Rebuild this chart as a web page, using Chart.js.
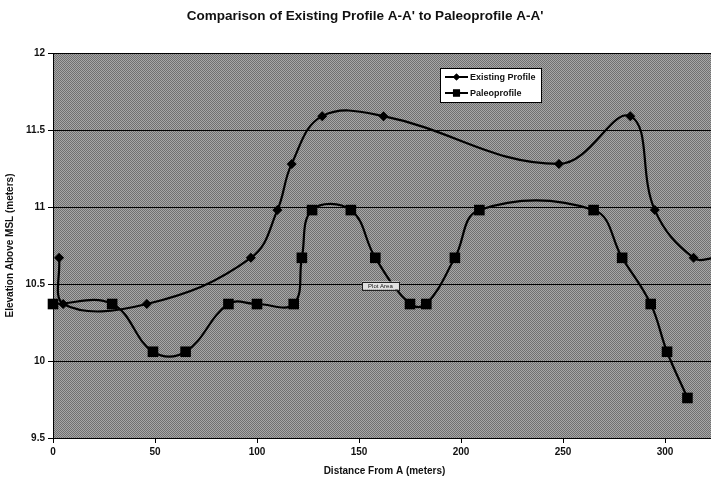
<!DOCTYPE html>
<html>
<head>
<meta charset="utf-8">
<script src="https://cdn.jsdelivr.net/npm/chart.js@4/dist/chart.umd.min.js"></script>
<style>
  html, body { margin: 0; padding: 0; background: #fff; overflow: hidden; width: 711px; height: 481px; }
  #wrap { width: 730px; height: 481px; }
  canvas { display: block; }
</style>
</head>
<body>
<div id="wrap"><canvas id="profile" width="730" height="481"></canvas></div>
<script>
// Text
const chartTitle = "Comparison of Existing Profile A-A' to Paleoprofile A-A'";
const xAxisTitle = 'Distance From A (meters)';
const yAxisTitle = 'Elevation Above MSL (meters)';
const seriesNames = ['Existing Profile', 'Paleoprofile'];
const plotAreaTag = 'Plot Area';

// Surveyed points (distance in m, elevation in m above MSL)
const existingDistance  = [3, 5, 46, 97, 110, 117, 132, 162, 248, 283, 295, 314, 325];
const existingElevation = [10.67, 10.37, 10.37, 10.67, 10.98, 11.28, 11.59, 11.59, 11.28, 11.59, 10.98, 10.67, 10.67];

const paleoDistance  = [0, 29, 49, 65, 86, 100, 118, 122, 127, 146, 158, 175, 183, 197, 209, 265, 279, 293, 301, 311];
const paleoElevation = [10.37, 10.37, 10.06, 10.06, 10.37, 10.37, 10.37, 10.67, 10.98, 10.98, 10.67, 10.37, 10.37, 10.67, 10.98, 10.98, 10.67, 10.37, 10.06, 9.76];

// Axis ticks
const xTicks = [0, 50, 100, 150, 200, 250, 300];
const yTicks = [9.5, 10, 10.5, 11, 11.5, 12];

const toPoints = (xs, ys) => xs.map((x, i) => ({ x: x, y: ys[i] }));

// Dithered grey fill for the plot area
function ditherPattern(ctx) {
  const tile = document.createElement('canvas');
  tile.width = 2; tile.height = 2;
  const g = tile.getContext('2d');
  g.fillStyle = '#a7a7a7';
  g.fillRect(0, 0, 2, 2);
  g.fillStyle = '#707070';
  g.fillRect(0, 0, 1, 1);
  g.fillRect(1, 1, 1, 1);
  return ctx.createPattern(tile, 'repeat');
}

const plotBackground = {
  id: 'plotBackground',
  beforeDraw(chart) {
    const { ctx, chartArea: a } = chart;
    ctx.save();
    ctx.fillStyle = ditherPattern(ctx);
    ctx.fillRect(a.left, a.top, a.right - a.left, a.bottom - a.top);
    ctx.restore();
  }
};

const headline = {
  id: 'headline',
  afterDraw(chart) {
    const { ctx } = chart;
    ctx.save();
    ctx.font = 'bold 13.5px "Liberation Sans", Arial, sans-serif';
    ctx.fillStyle = '#111';
    ctx.textAlign = 'center';
    ctx.textBaseline = 'middle';
    ctx.fillText(chartTitle, 365, 16);
    ctx.restore();
  }
};

const boxedLegend = {
  id: 'boxedLegend',
  afterDraw(chart) {
    const { ctx, chartArea: a } = chart;
    const bx = a.left + 387, by = a.top + 15, bw = 102, bh = 35;
    ctx.save();
    ctx.fillStyle = '#fff';
    ctx.fillRect(bx, by, bw, bh);
    ctx.strokeStyle = '#000';
    ctx.lineWidth = 1;
    ctx.strokeRect(bx + 0.5, by + 0.5, bw - 1, bh - 1);
    ctx.font = 'bold 9px "Liberation Sans", Arial, sans-serif';
    ctx.textBaseline = 'middle';
    chart.data.datasets.forEach((ds, i) => {
      const y = by + 9 + i * 16;
      ctx.strokeStyle = '#000';
      ctx.lineWidth = 2;
      ctx.beginPath();
      ctx.moveTo(bx + 5, y);
      ctx.lineTo(bx + 28, y);
      ctx.stroke();
      ctx.fillStyle = '#000';
      Chart.helpers.drawPoint(ctx, { pointStyle: ds.pointStyle, radius: i === 0 ? 3.5 : 5, borderWidth: 0, rotation: 0 }, bx + 16.5, y);
      ctx.fill();
      ctx.fillStyle = '#111';
      ctx.fillText(ds.label, bx + 30, y + 0.5);
    });
    ctx.restore();
  }
};

const areaTag = {
  id: 'areaTag',
  afterDraw(chart) {
    const { ctx } = chart;
    const xs = chart.scales.x, ys = chart.scales.y;
    const cx = xs.getPixelForValue(160.5), cy = ys.getPixelForValue(10.49);
    ctx.save();
    ctx.font = '6px "Liberation Sans", Arial, sans-serif';
    const w = 37, h = 8;
    ctx.fillStyle = '#e2e2e2';
    ctx.fillRect(cx - w / 2, cy - h / 2, w, h);
    ctx.strokeStyle = '#222';
    ctx.lineWidth = 1;
    ctx.strokeRect(Math.round(cx - w / 2) + 0.5, Math.round(cy - h / 2) + 0.5, w, h);
    ctx.fillStyle = '#111';
    ctx.textAlign = 'center';
    ctx.textBaseline = 'middle';
    ctx.fillText(plotAreaTag, cx, cy + 0.5);
    ctx.restore();
  }
};

const tickFont = { family: '"Liberation Sans", Arial, sans-serif', size: 10, weight: 'bold' };
const titleFont = { family: '"Liberation Sans", Arial, sans-serif', size: 10, weight: 'bold', lineHeight: 1.2 };

new Chart(document.getElementById('profile'), {
  type: 'line',
  data: {
    datasets: [
      {
        label: seriesNames[0],
        data: toPoints(existingDistance, existingElevation),
        borderColor: '#000',
        backgroundColor: '#000',
        borderWidth: 2.2,
        pointStyle: 'rectRot',
        pointRadius: 5,
        pointBorderWidth: 0,
        tension: 0.4,
        clip: false
      },
      {
        label: seriesNames[1],
        data: toPoints(paleoDistance, paleoElevation),
        borderColor: '#000',
        backgroundColor: '#000',
        borderWidth: 2.2,
        pointStyle: 'rect',
        pointRadius: 7.5,
        pointBorderWidth: 0,
        tension: 0.4,
        clip: false
      }
    ]
  },
  options: {
    responsive: false,
    animation: false,
    events: [],
    layout: { padding: { top: 53, right: 14, left: 0, bottom: 0 } },
    plugins: { legend: { display: false }, tooltip: { enabled: false }, title: { display: false } },
    scales: {
      x: {
        type: 'linear',
        min: 0,
        max: 325,
        afterBuildTicks: s => { s.ticks = xTicks.map(v => ({ value: v })); },
        afterFit: s => { s.height = 43; },
        ticks: { font: tickFont, color: '#111', padding: 3, maxRotation: 0, autoSkip: false, callback: v => String(v) },
        grid: { drawOnChartArea: false, drawTicks: true, tickLength: 5, color: '#000' },
        border: { display: true, color: '#000', width: 1 },
        title: { display: true, text: xAxisTitle, font: titleFont, color: '#111', padding: { top: 0, bottom: 4 } }
      },
      y: {
        min: 9.5,
        max: 12,
        afterBuildTicks: s => { s.ticks = yTicks.map(v => ({ value: v })); },
        afterFit: s => { s.width = 53; },
        ticks: { font: tickFont, color: '#111', padding: 3, autoSkip: false, callback: v => String(v) },
        grid: { color: '#000', lineWidth: 1, drawTicks: true, tickLength: 5 },
        border: { display: true, color: '#000', width: 1 },
        title: { display: true, text: yAxisTitle, font: titleFont, color: '#111', padding: { top: 4, bottom: 0 } }
      }
    }
  },
  plugins: [plotBackground, headline, boxedLegend, areaTag]
});
</script>
</body>
</html>
